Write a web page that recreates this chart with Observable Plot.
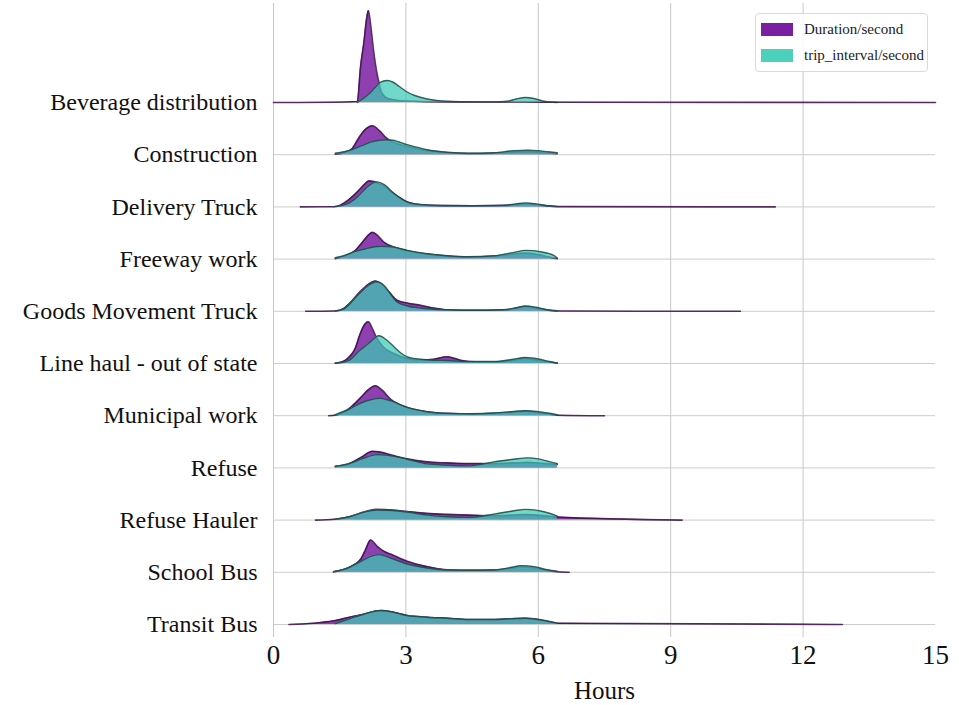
<!DOCTYPE html>
<html>
<head>
<meta charset="utf-8">
<script src="https://cdn.jsdelivr.net/npm/d3@7"></script>
<script src="https://cdn.jsdelivr.net/npm/@observablehq/plot@0.6"></script>
<style>
  html, body { margin: 0; padding: 0; background: #fff; }
  #wrap { position: relative; width: 959px; height: 705px; font-family: "Liberation Serif", "DejaVu Serif", serif; }
  #legend { position: absolute; left: 755px; top: 13px; width: 171px; height: 57px;
            border: 1px solid #d9d9d9; border-radius: 4px; background: rgba(255,255,255,0.8);
            font-family: "Liberation Serif", serif; font-size: 15px; color: #222; }
  .item { position: absolute; left: 5px; display: flex; align-items: center; }
  .sw { width: 32px; height: 13px; margin-right: 11px; }
</style>
</head>
<body>
<div id="wrap"><div id="legend"></div></div>
<script>
// ---- data ----
const categories = [
  "Beverage distribution", "Construction", "Delivery Truck", "Freeway work",
  "Goods Movement Truck", "Line haul - out of state", "Municipal work", "Refuse",
  "Refuse Hauler", "School Bus", "Transit Bus"
];
const seriesNames = ["Duration/second", "trip_interval/second"];
const seriesColors = ["#7B1FA2", "#3ACBB4"];
const xTicks = [0, 3, 6, 9, 12, 15];
const gridHours = [0, 3, 6, 9, 12];

// relative density (hours, density) per category — Duration/second
const durationCurves = [
  [[0,0],[1.4,0.3],[1.9,1],[1.97,35],[2.05,61],[2.11,84],[2.15,92],[2.2,78],[2.27,51],[2.35,28],[2.39,20],[2.45,10],[2.6,4],[3.0,1.5],[4,0.6],[5.7,0.5],[6.43,0.3],[15,0]],
  [[1.4,0.5],[1.6,2],[1.78,6],[1.95,18],[2.1,26],[2.24,29],[2.4,24],[2.55,17],[2.61,15],[2.8,11],[3.03,8.5],[3.3,5.5],[3.6,3.5],[3.94,2],[4.4,1.2],[5.0,1.5],[5.45,2.5],[5.76,3],[6.1,2],[6.43,1]],
  [[0.61,0],[1.36,0.2],[1.5,1.5],[1.67,6],[1.9,15],[2.05,22],[2.16,26],[2.25,25.5],[2.35,24],[2.5,21],[2.73,13],[3.03,5],[3.33,2.3],[3.8,1.3],[4.5,1.1],[5.3,1.5],[5.71,3],[6.1,1.5],[6.43,0.3],[11.37,0]],
  [[1.4,0.5],[1.67,4],[1.85,8.5],[2.0,16],[2.15,24],[2.24,26.7],[2.35,24],[2.5,17],[2.73,12],[3.03,8.3],[3.48,5],[3.94,3],[4.4,2],[5.0,2.8],[5.45,5],[5.71,6],[6.0,4.5],[6.3,1.5],[6.43,0.5]],
  [[0.73,0],[1.4,0.3],[1.6,3],[1.72,7.7],[1.95,19],[2.15,27],[2.31,30.3],[2.45,27],[2.65,17.7],[2.8,11],[3.03,8.3],[3.33,6],[3.63,3.3],[3.94,1.5],[4.5,1],[5.3,1.5],[5.71,4.5],[6.1,2],[6.43,0.3],[10.58,0]],
  [[1.4,0.3],[1.6,2.5],[1.72,6.7],[1.85,15],[1.95,28],[2.05,38],[2.15,41.7],[2.24,35],[2.32,27],[2.39,22],[2.5,16],[2.73,10],[3.03,5],[3.33,3.5],[3.63,4.3],[3.94,6.7],[4.24,3.3],[4.55,1.7],[5.0,1.5],[5.4,3],[5.71,5],[6.0,3],[6.43,0.5]],
  [[1.25,0],[1.4,0.5],[1.72,7.3],[1.98,18.3],[2.15,26],[2.31,30],[2.45,26],[2.65,16.7],[3.03,8.3],[3.48,4],[3.94,2.3],[4.5,1.8],[5.0,2.3],[5.4,3.5],[5.71,4.5],[6.1,2.5],[6.43,0.5],[7.5,0]],
  [[1.4,1.5],[1.72,4.5],[2.0,11],[2.24,16.7],[2.4,16],[2.7,12.5],[3.03,9],[3.48,6],[3.94,5],[4.4,4.3],[5.0,4.3],[5.45,5],[5.76,5.5],[6.1,4.5],[6.43,3.5]],
  [[0.95,0],[1.4,0.8],[1.72,3.3],[1.95,6.7],[2.35,10.7],[2.7,10],[3.03,8.5],[3.48,6.7],[3.94,5.7],[4.4,5],[5.0,4.3],[5.45,5],[5.71,5.5],[6.1,4.5],[6.43,3],[9.26,0]],
  [[1.36,0.5],[1.72,5],[1.98,13.3],[2.08,22],[2.2,32.3],[2.35,26],[2.5,21],[2.65,18.3],[3.03,11],[3.48,5.7],[3.94,2.5],[4.5,2],[5.0,2.3],[5.4,4],[5.6,5.5],[5.9,4.5],[6.2,2],[6.43,0.5],[6.7,0]],
  [[0.35,0],[0.91,1.3],[1.4,4],[1.72,7.3],[2.02,10],[2.43,14],[2.7,12.5],[3.03,9],[3.48,7.3],[3.94,6.3],[4.4,5],[5.0,5],[5.4,5.8],[5.71,6.3],[6.21,3.3],[6.43,1.3],[12.89,0]]
];

// relative density (hours, density) per category — trip_interval/second
const intervalCurves = [
  [[1.9,0],[2.0,3],[2.15,8],[2.3,15],[2.4,19.5],[2.5,21.5],[2.58,22],[2.7,20.5],[2.85,16],[3.03,10.5],[3.2,7],[3.48,3.5],[3.7,2],[3.94,1.2],[4.5,0.6],[5.0,0.6],[5.3,1.2],[5.5,3.5],[5.71,5],[5.9,4],[6.1,1.5],[6.25,0.5],[6.43,0]],
  [[1.4,1.5],[1.6,3],[1.78,5],[2.0,9],[2.2,12.5],[2.4,14.5],[2.55,15],[2.7,14.5],[3.03,10],[3.48,5],[3.94,2.5],[4.4,1.5],[5.0,2],[5.45,4],[5.76,4.5],[6.0,4],[6.21,3],[6.43,2]],
  [[1.36,0.3],[1.5,1],[1.67,3],[1.9,10],[2.1,19],[2.25,24],[2.35,25],[2.5,22.5],[2.73,13.5],[3.03,5],[3.33,2.3],[3.8,1.4],[4.5,1.2],[5.2,1.5],[5.5,3],[5.71,4],[5.95,3],[6.2,1.2],[6.43,0.5]],
  [[1.4,1.5],[1.6,3.5],[1.85,7.7],[2.1,10.5],[2.3,12.3],[2.43,12.7],[2.6,12.5],[2.73,12],[3.03,8.7],[3.48,5.3],[3.94,3.3],[4.4,2.3],[5.0,3.3],[5.45,6.7],[5.71,8.7],[6.05,7.3],[6.35,3.7],[6.43,1]],
  [[1.4,0.3],[1.6,2.5],[1.72,7],[1.95,18],[2.15,26],[2.35,29.5],[2.5,26],[2.65,17.5],[2.8,9.3],[3.03,5.3],[3.33,3.3],[3.63,2],[3.94,1.5],[4.5,1],[5.2,1.5],[5.5,3.5],[5.71,5.3],[5.95,4],[6.2,1.5],[6.43,0.5]],
  [[1.4,0.3],[1.6,1.5],[1.72,3.3],[1.95,13],[2.15,20],[2.24,23.5],[2.32,26.5],[2.39,27.7],[2.55,24],[2.73,16.7],[2.9,10],[3.03,6.7],[3.33,4.3],[3.63,3.3],[3.94,3],[4.4,2],[5.0,2],[5.4,4],[5.71,6],[6.0,4.5],[6.25,2],[6.43,0.5]],
  [[1.4,1],[1.72,6.7],[1.98,12.7],[2.2,16],[2.43,17.3],[2.65,15],[3.03,8.3],[3.48,4],[3.94,2.3],[4.5,2],[5.0,2.7],[5.4,4],[5.71,5],[6.0,4],[6.25,2.5],[6.43,1]],
  [[1.4,1.5],[1.72,4.3],[2.0,9],[2.35,13.3],[2.6,12.5],[3.03,8.7],[3.48,4],[3.94,2.7],[4.4,2],[5.0,6],[5.45,8.7],[5.76,10],[6.0,9],[6.21,6.7],[6.43,4.3]],
  [[1.4,1],[1.72,3.3],[1.95,6.7],[2.35,10],[2.7,9.5],[3.03,8],[3.48,5],[3.94,3.3],[4.4,2.7],[5.0,6],[5.45,9.3],[5.71,10.7],[6.13,8.3],[6.43,4]],
  [[1.36,0.5],[1.72,5],[1.98,11],[2.2,16],[2.39,17.7],[2.65,14.3],[3.03,8.3],[3.48,4.3],[3.94,2.3],[4.5,2],[5.0,2.3],[5.4,5],[5.6,6.7],[5.9,5.7],[6.2,2.5],[6.43,1]],
  [[1.4,1],[1.72,5.7],[2.02,10],[2.43,14],[2.7,12.5],[3.03,9],[3.48,7.3],[3.94,6.3],[4.4,5],[5.0,5],[5.4,5.8],[5.71,6.3],[6.21,3.3],[6.43,1.3]]
];

// ---- layout helpers ----
const ROW = 52.2;                       // vertical spacing between ridges, in density units
const n = categories.length;
const baseOf = (i) => (n - 1 - i) * ROW; // row baseline on the y scale
const baseValues = categories.map((c, i) => baseOf(i));
const nameAt = new Map(categories.map((c, i) => [baseOf(i), c]));

function flatten(curves, series) {
  const out = [];
  curves.forEach((pts, i) => {
    pts.forEach(([h, d]) => out.push({cat: categories[i], series, hour: h, base: baseOf(i), top: baseOf(i) + d}));
  });
  return out;
}
const durData = flatten(durationCurves, seriesNames[0]);
const intData = flatten(intervalCurves, seriesNames[1]);

const chart = Plot.plot({
  width: 959,
  height: 705,
  marginLeft: 273,
  marginRight: 24,
  marginTop: 3,
  marginBottom: 68,
  style: {fontFamily: "'Liberation Serif', serif", color: "#111", background: "transparent"},
  x: {domain: [0, 15]},
  y: {domain: [-13, 621]},
  marks: [
    Plot.ruleX(gridHours, {stroke: "#c8c8c8", strokeWidth: 1}),
    Plot.ruleY(baseValues, {stroke: "#cccccc", strokeWidth: 1}),
    Plot.areaY(durData, {x: "hour", y1: "base", y2: "top", z: "cat", fill: seriesColors[0], fillOpacity: 0.85, curve: "monotone-x"}),
    Plot.lineY(durData, {x: "hour", y: "top", z: "cat", stroke: "#3c0f4a", strokeOpacity: 0.85, strokeWidth: 1.6, curve: "monotone-x"}),
    Plot.areaY(intData, {x: "hour", y1: "base", y2: "top", z: "cat", fill: seriesColors[1], fillOpacity: 0.72, curve: "monotone-x"}),
    Plot.lineY(intData, {x: "hour", y: "top", z: "cat", stroke: "#1d3f3d", strokeOpacity: 0.8, strokeWidth: 1.4, curve: "monotone-x"}),
    Plot.axisY({ticks: baseValues, tickFormat: (d) => nameAt.get(d), tickSize: 0, tickPadding: 16, fontSize: 24, label: null}),
    Plot.axisX({ticks: xTicks, tickSize: 0, tickPadding: 7, fontSize: 27, label: null}),
    Plot.axisX({ticks: [], tickSize: 0, fontSize: 25, label: "Hours", labelAnchor: "center", labelArrow: "none", labelOffset: 61})
  ]
});
document.getElementById("wrap").prepend(chart);

// legend
const legend = document.getElementById("legend");
seriesNames.forEach((s, i) => {
  const item = document.createElement("div");
  item.className = "item";
  item.style.top = (i === 0 ? 7 : 33) + "px";
  const sw = document.createElement("span");
  sw.className = "sw";
  sw.style.background = seriesColors[i];
  sw.style.opacity = i === 0 ? 1 : 0.9;
  const tx = document.createElement("span");
  tx.textContent = s;
  item.append(sw, tx);
  legend.append(item);
});
</script>
</body>
</html>
